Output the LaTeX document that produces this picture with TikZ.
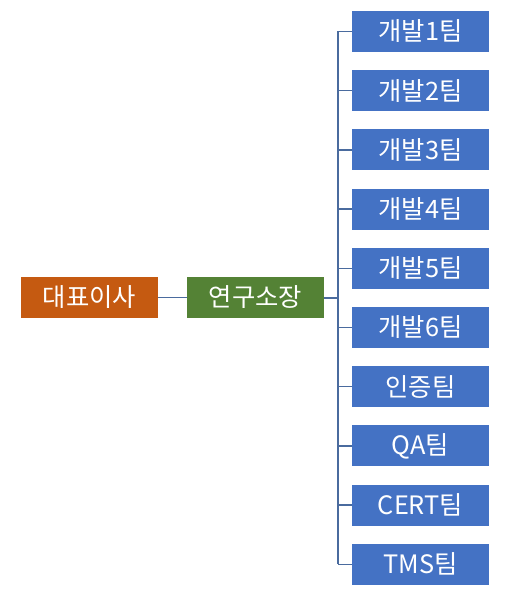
\documentclass[tikz,border=0pt]{standalone}
\usepackage{fontspec}
\setmainfont{Noto Sans CJK KR}
\definecolor{ceoc}{HTML}{C55A11}
\definecolor{dirc}{HTML}{548235}
\definecolor{teamc}{HTML}{4472C4}
\definecolor{linec}{HTML}{4A6B9E}
\begin{document}
\begin{tikzpicture}[x=0.75pt,y=-0.75pt,
  box/.style={rectangle,inner sep=0pt,minimum width=102.75pt,minimum height=30.75pt,
    text=white,font=\fontsize{19}{21}\selectfont},
  conn/.style={draw=linec,line width=1pt}]
\useasboundingbox (0,0) rectangle (518,598);
\node[box,fill=ceoc] (ceo) at (89.5,297.5) {대표이사};
\node[box,fill=dirc] (dir) at (255.5,297.5) {연구소장};
\foreach \i/\t in {1/개발1팀,2/개발2팀,3/개발3팀,4/개발4팀,5/개발5팀,6/개발6팀,7/인증팀,8/QA팀,9/CERT팀,10/TMS팀}{
  \node[box,fill=teamc] (t\i) at (420.5,{31.5+59.2*(\i-1)}) {\t};
}
\coordinate (bus) at (338,297.5);
\draw[conn] (ceo) -- (dir);
\draw[conn,line width=1.5pt] (dir.east) -- (bus);
\draw[conn] (bus |- t1) -- (bus |- t10);
\foreach \i in {1,...,10}{
  \draw[conn] (bus |- t\i) -- (t\i.west);
}
\end{tikzpicture}
\end{document}
